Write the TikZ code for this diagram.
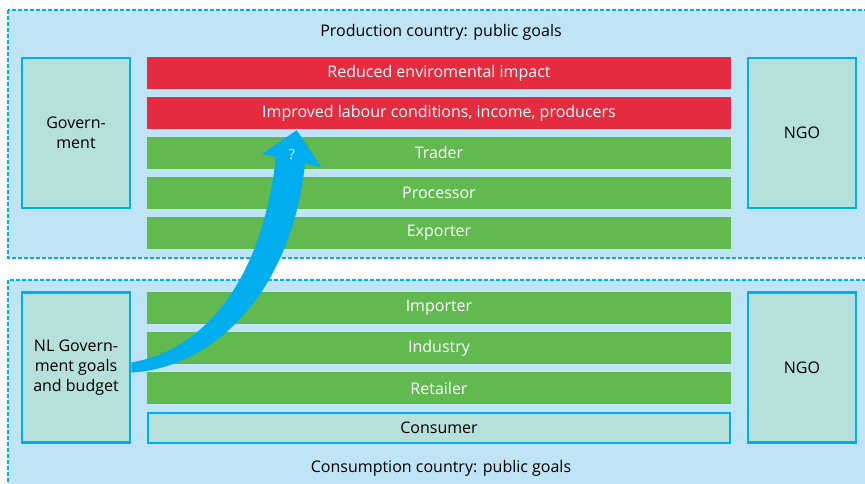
\documentclass[tikz,border=0pt]{standalone}
\usepackage{fontspec}
\setmainfont{Open Sans}
\usepackage{xcolor}
\usetikzlibrary{calc}
\definecolor{panelblue}{RGB}{190,228,246}
\definecolor{lineblue}{RGB}{0,174,239}
\definecolor{goalred}{RGB}{229,43,64}
\definecolor{chaingreen}{RGB}{97,185,80}
\definecolor{actorteal}{RGB}{182,224,220}

\begin{document}
\begin{tikzpicture}[
    x=1pt, y=-1pt,
    panel/.style={fill=panelblue, draw=lineblue, line width=1.5pt, dash pattern=on 4pt off 2pt},
    goal/.style={fill=goalred, text=white, minimum width=584pt, minimum height=32pt, inner sep=0pt, font=\fontsize{16}{18}\selectfont},
    link/.style={fill=chaingreen, text=white, minimum width=584pt, minimum height=32pt, inner sep=0pt, font=\fontsize{16}{18}\selectfont},
    actor/.style={fill=actorteal, draw=lineblue, line width=2.5pt, minimum width=108pt, minimum height=150pt, inner sep=0pt, align=center, font=\fontsize{16}{20}\selectfont},
    title/.style={font=\fontsize{16}{18}\selectfont}
]
    \useasboundingbox (0,0) rectangle (865,484);
    \clip (0,0) rectangle (865,484);

    % Panels
    \draw[panel] (8,10) rectangle (880,258);
    \draw[panel] (8,280) rectangle (880,500);
    \node[title] (prodtitle) at (441,32) {Production country: public goals};
    \node[title] (constitle) at (441,468) {Consumption country: public goals};

    % Production side
    \node[goal] (reduced) at (439,73) {Reduced enviromental impact};
    \node[goal] (improved) at (439,113) {Improved labour conditions, income, producers};
    \node[link] (trader) at (439,153) {Trader};
    \node[link] (processor) at (439,193) {Processor};
    \node[link] (exporter) at (439,233) {Exporter};
    \node[actor] (gov) at (76,133) {Govern-\\ment};
    \node[actor] (ngoprod) at (802,133) {NGO};

    % Consumption side
    \node[link] (importer) at (439,308) {Importer};
    \node[link] (industry) at (439,348) {Industry};
    \node[link] (retailer) at (439,388) {Retailer};
    \node[actor, minimum height=30pt, minimum width=582pt] (consumer) at (439,428) {Consumer};
    \node[actor] (nlgov) at (76,367.5) {NL Govern-\\ment goals\\and budget};
    \node[actor] (ngocons) at (802,367.5) {NGO};

    % Curved arrow
    \coordinate (tip) at ($(improved.south west)+(150,1)$);
    \fill[lineblue] ($(nlgov.east)+(0,-5)$) .. controls (205,350) and (262,280) .. (276,157)
        -- (262,154) -- (tip) -- (321,167) -- (305,163.5)
        .. controls (292,290) and (215,368) .. ($(nlgov.east)+(0,5)$) -- cycle;
    \node[text=white, font=\fontsize{14}{16}\selectfont] (question) at (292,155) {?};

\end{tikzpicture}
\end{document}
